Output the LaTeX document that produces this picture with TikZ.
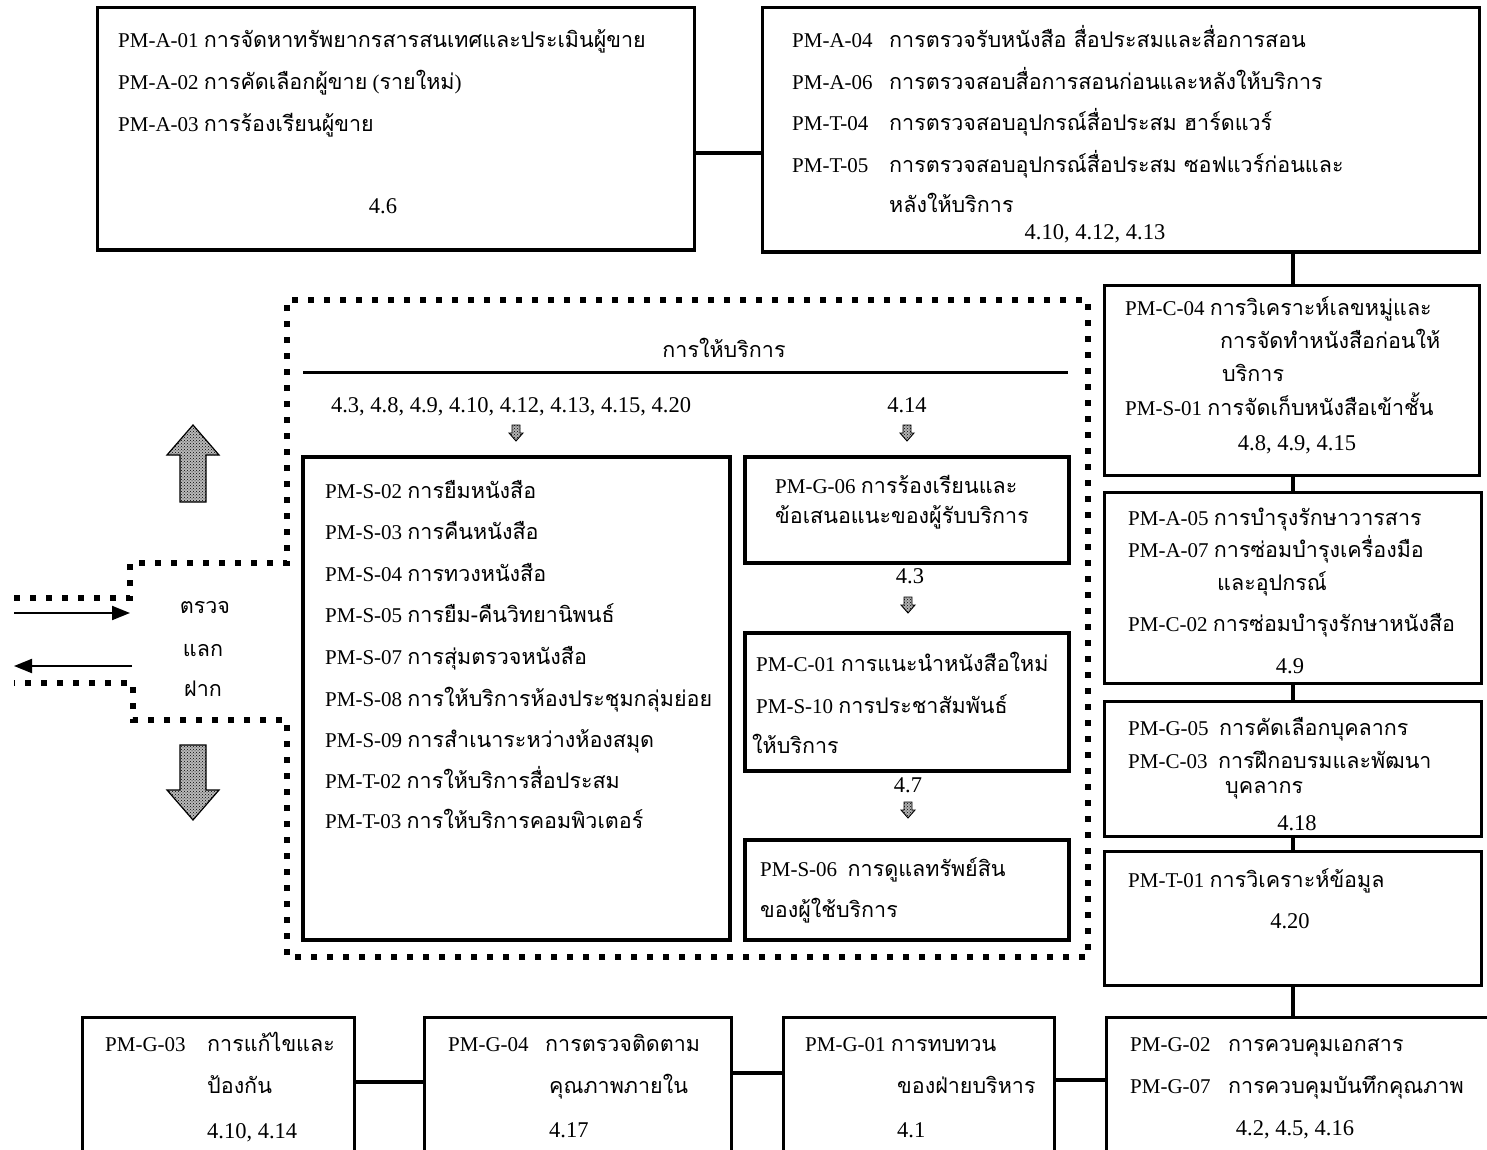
\documentclass[tikz,border=0pt]{standalone}
\usepackage{fontspec}
\setmainfont{Liberation Serif}
\newfontfamily\thaif[Script=Thai]{Loma}
\usetikzlibrary{fit,patterns,arrows.meta}
\newcommand\T[1]{{\thaif\fontsize{21.5}{24}\selectfont #1}}
\newcommand\PM[2][0pt]{\ifdim#1=0pt #2\else\makebox[#1][l]{#2}\fi}
\begin{document}
\begin{tikzpicture}[x=1pt,y=-1pt,
 box/.style={draw, line width=3pt, inner sep=0pt},
 sbox/.style={draw, line width=4.5pt, inner sep=0pt},
 conn/.style={line width=4pt},
 txt/.style={anchor=west, inner sep=0pt, font=\fontsize{21}{24}\selectfont, text height=15pt, text depth=5pt},
 ntxt/.style={txt, font=\fontsize{22.5}{25}\selectfont},
 ctxt/.style={ntxt, anchor=center},
 dots/.style={line width=6pt, dash pattern=on 6pt off 10pt},
 bigarrow/.style={draw, line width=1.2pt, fill=gray!55, postaction={pattern=crosshatch dots}},
 flow/.style={line width=2pt, -{Triangle[length=18pt,width=14pt]}},
 smallarr/.style={line width=0.9pt, fill=gray!60, postaction={pattern=crosshatch dots}},
]
\useasboundingbox (0,0) rectangle (1487,1150);
\clip (0,0) rectangle (1487,1150);
\fill[white] (0,0) rectangle (1487,1150);

% ---------- top boxes
\node[box, fit={(97,8) (694,250)}] (A1) {};
\node[txt] (a1t1) at (118,43) {PM-A-01 \T{การจัดหาทรัพยากรสารสนเทศและประเมินผู้ขาย}};
\node[txt] (a1t2) at (118,85) {PM-A-02 \T{การคัดเลือกผู้ขาย} (\T{รายใหม่})};
\node[txt] (a1t3) at (118,127) {PM-A-03 \T{การร้องเรียนผู้ขาย}};
\node[ctxt] (a1n) at (383,209) {4.6};

\node[box, fit={(762,8) (1479,252)}] (A4) {};
\node[txt] (a4t1) at (792,43) {\PM[97pt]{PM-A-04}\T{การตรวจรับหนังสือ สื่อประสมและสื่อการสอน}};
\node[txt] (a4t2) at (792,85) {\PM[97pt]{PM-A-06}\T{การตรวจสอบสื่อการสอนก่อนและหลังให้บริการ}};
\node[txt] (a4t3) at (792,126) {\PM[97pt]{PM-T-04}\T{การตรวจสอบอุปกรณ์สื่อประสม ฮาร์ดแวร์}};
\node[txt] (a4t4) at (792,168) {\PM[97pt]{PM-T-05}\T{การตรวจสอบอุปกรณ์สื่อประสม ซอฟแวร์ก่อนและ}};
\node[txt] (a4t5) at (889,208) {\T{หลังให้บริการ}};
\node[ctxt] (a4n) at (1095,235) {4.10, 4.12, 4.13};

% ---------- right column
\node[box, fit={(1104,285) (1479,475)}] (C04) {};
\node[txt] (c4t1) at (1125,310) {PM-C-04 \T{การวิเคราะห์เลขหมู่และ}};
\node[txt] (c4t2) at (1220,343) {\T{การจัดทำหนังสือก่อนให้}};
\node[txt] (c4t3) at (1222,376) {\T{บริการ}};
\node[txt] (c4t4) at (1125,410) {PM-S-01 \T{การจัดเก็บหนังสือเข้าชั้น}};
\node[ctxt] (c4n) at (1297,445) {4.8, 4.9, 4.15};

\node[box, fit={(1104,492) (1481,683)}] (A05) {};
\node[txt] (a5t1) at (1128,520) {PM-A-05 \T{การบำรุงรักษาวารสาร}};
\node[txt] (a5t2) at (1128,552) {PM-A-07 \T{การซ่อมบำรุงเครื่องมือ}};
\node[txt] (a5t3) at (1217,585) {\T{และอุปกรณ์}};
\node[txt] (a5t4) at (1128,626) {PM-C-02 \T{การซ่อมบำรุงรักษาหนังสือ}};
\node[ctxt] (a5n) at (1290,668) {4.9};

\node[box, fit={(1104,701) (1481,836)}] (G05) {};
\node[txt] (g5t1) at (1128,730) {PM-G-05\ \ \T{การคัดเลือกบุคลากร}};
\node[txt] (g5t2) at (1128,763) {PM-C-03\ \ \T{การฝึกอบรมและพัฒนา}};
\node[txt] (g5t3) at (1225,788) {\T{บุคลากร}};
\node[ctxt] (g5n) at (1297,825) {4.18};

\node[box, fit={(1104,851) (1481,985)}] (T01) {};
\node[txt] (t1t1) at (1128,882) {PM-T-01 \T{การวิเคราะห์ข้อมูล}};
\node[ctxt] (t1n) at (1290,923) {4.20};

% ---------- bottom row
\node[box, fit={(82,1017) (354,1170)}] (G03) {};
\node[txt] (g3t1) at (105,1046) {\PM[102pt]{PM-G-03}\T{การแก้ไขและ}};
\node[txt] (g3t2) at (207,1088) {\T{ป้องกัน}};
\node[ntxt] (g3t3) at (207,1133) {4.10, 4.14};

\node[box, fit={(424,1017) (731,1170)}] (G04) {};
\node[txt] (g4t1) at (448,1046) {\PM[97pt]{PM-G-04}\T{การตรวจติดตาม}};
\node[txt] (g4t2) at (549,1088) {\T{คุณภาพภายใน}};
\node[ntxt] (g4t3) at (549,1132) {4.17};

\node[box, fit={(783,1017) (1054,1170)}] (G01) {};
\node[txt] (g1t1) at (805,1046) {PM-G-01 \T{การทบทวน}};
\node[txt] (g1t2) at (897,1088) {\T{ของฝ่ายบริหาร}};
\node[ntxt] (g1t3) at (897,1132) {4.1};

\node[box, fit={(1106,1017) (1500,1170)}] (G02) {};
\node[txt] (g2t1) at (1130,1046) {\PM[98pt]{PM-G-02}\T{การควบคุมเอกสาร}};
\node[txt] (g2t2) at (1130,1088) {\PM[98pt]{PM-G-07}\T{การควบคุมบันทึกคุณภาพ}};
\node[ctxt] (g2n) at (1295,1130) {4.2, 4.5, 4.16};

% ---------- connectors
\coordinate (h1) at (0,153);
\coordinate (vx) at (1293,0);
\coordinate (hb1) at (0,1082);
\coordinate (hb2) at (0,1073);
\coordinate (hb3) at (0,1080);
\draw[conn] (A1.east |- h1) -- (A4.west |- h1);
\draw[conn] (A4.south -| vx) -- (C04.north -| vx);
\draw[conn] (C04.south -| vx) -- (A05.north -| vx);
\draw[conn] (A05.south -| vx) -- (G05.north -| vx);
\draw[conn] (G05.south -| vx) -- (T01.north -| vx);
\draw[conn] (T01.south -| vx) -- (G02.north -| vx);
\draw[conn] (G03.east |- hb1) -- (G04.west |- hb1);
\draw[conn] (G04.east |- hb2) -- (G01.west |- hb2);
\draw[conn] (G01.east |- hb3) -- (G02.west |- hb3);

% ---------- service area
\draw[dots] (14,598) -- (130,598) -- (130,563) -- (287,563) -- (287,300) -- (1088,300)
  -- (1088,957) -- (287,957) -- (287,720) -- (133,720) -- (133,683) -- (14,683);
\node[ctxt] (svc) at (724,352) {\T{การให้บริการ}};
\draw[line width=3pt] (303,372) -- (1068,372);
\node[ctxt] (n1) at (511,407) {4.3, 4.8, 4.9, 4.10, 4.12, 4.13, 4.15, 4.20};
\node[ctxt] (n2) at (907,407) {4.14};

\node[sbox, fit={(303,457) (730,940)}] (S02) {};
\node[txt] (s2t1) at (325,493) {PM-S-02 \T{การยืมหนังสือ}};
\node[txt] (s2t2) at (325,534) {PM-S-03 \T{การคืนหนังสือ}};
\node[txt] (s2t3) at (325,576) {PM-S-04 \T{การทวงหนังสือ}};
\node[txt] (s2t4) at (325,617) {PM-S-05 \T{การยืม-คืนวิทยานิพนธ์}};
\node[txt] (s2t5) at (325,659) {PM-S-07 \T{การสุ่มตรวจหนังสือ}};
\node[txt] (s2t6) at (325,701) {PM-S-08 \T{การให้บริการห้องประชุมกลุ่มย่อย}};
\node[txt] (s2t7) at (325,742) {PM-S-09 \T{การสำเนาระหว่างห้องสมุด}};
\node[txt] (s2t8) at (325,783) {PM-T-02 \T{การให้บริการสื่อประสม}};
\node[txt] (s2t9) at (325,823) {PM-T-03 \T{การให้บริการคอมพิวเตอร์}};

\node[sbox, fit={(745,457) (1069,563)}] (G06) {};
\node[txt] (g6t1) at (775,488) {PM-G-06 \T{การร้องเรียนและ}};
\node[txt] (g6t2) at (775,518) {\T{ข้อเสนอแนะของผู้รับบริการ}};
\node[ctxt] (n3) at (910,578) {4.3};

\node[sbox, fit={(745,633) (1069,771)}] (C01) {};
\node[txt] (c1t1) at (756,666) {PM-C-01 \T{การแนะนำหนังสือใหม่}};
\node[txt] (c1t2) at (756,708) {PM-S-10 \T{การประชาสัมพันธ์}};
\node[txt] (c1t3) at (752,748) {\T{ให้บริการ}};
\node[ctxt] (n4) at (908,787) {4.7};

\node[sbox, fit={(745,840) (1069,940)}] (S06) {};
\node[txt] (s6t1) at (760,871) {PM-S-06\ \ \T{การดูแลทรัพย์สิน}};
\node[txt] (s6t2) at (760,912) {\T{ของผู้ใช้บริการ}};

% small down-arrow glyphs
\foreach \ax/\ay in {516/433, 907/433, 908/605, 908/810}
  \draw[smallarr]
    (\ax-4,\ay-8) -- (\ax+4,\ay-8) -- (\ax+4,\ay) -- (\ax+7,\ay) -- (\ax,\ay+8)
    -- (\ax-7,\ay) -- (\ax-4,\ay) -- cycle;

% ---------- left side
\node[txt, anchor=center] (k1) at (205,608) {\T{ตรวจ}};
\node[txt, anchor=center] (k2) at (203,651) {\T{แลก}};
\node[txt, anchor=center] (k3) at (203,691) {\T{ฝาก}};
\coordinate (inA) at (14,613);
\coordinate (inB) at (130,613);
\coordinate (outA) at (132,666);
\coordinate (outB) at (14,666);
\draw[flow] (inA) -- (inB);
\draw[flow] (outA) -- (outB);

\draw[bigarrow] (193,425) -- (219,455) -- (206,455) -- (206,502) -- (180,502) -- (180,455) -- (167,455) -- cycle;
\draw[bigarrow] (193,820) -- (219,790) -- (206,790) -- (206,745) -- (180,745) -- (180,790) -- (167,790) -- cycle;
\end{tikzpicture}
\end{document}
